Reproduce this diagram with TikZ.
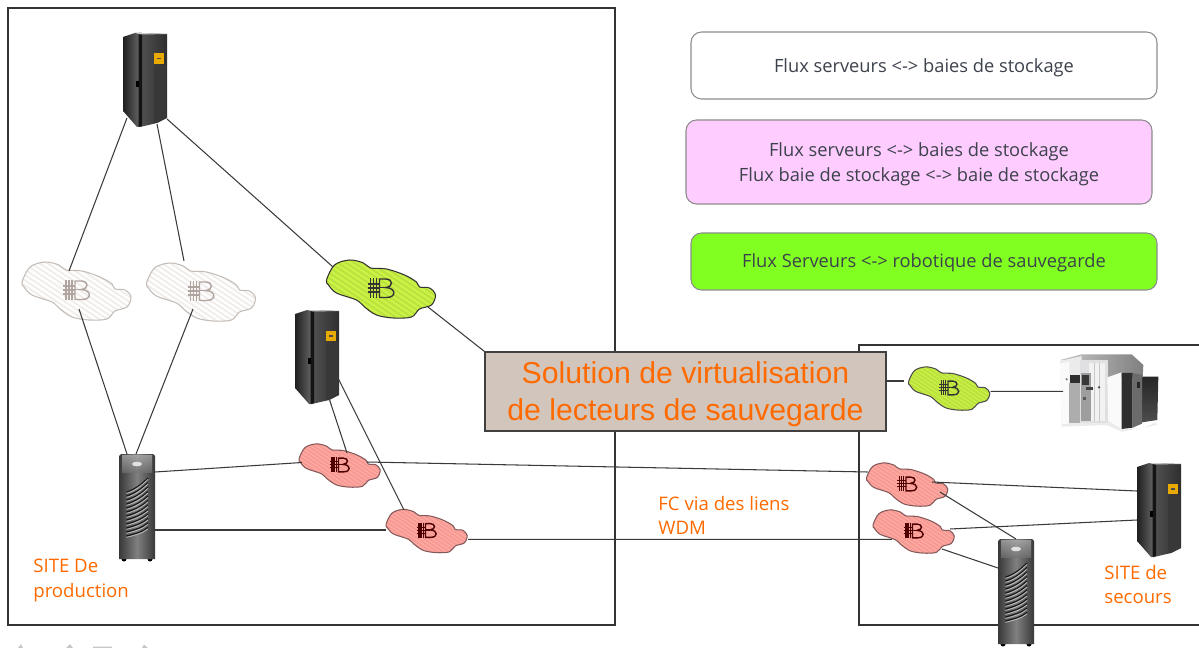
\documentclass[tikz,border=0pt]{standalone}
\usepackage{fontspec}
\setmainfont{Open Sans}
\newfontfamily\arialfont{Liberation Sans}
\definecolor{orangetxt}{HTML}{FF6A00}
\definecolor{legendtxt}{HTML}{3C424C}
\definecolor{linkgray}{HTML}{3A3A3A}
\definecolor{legpink}{RGB}{255,204,255}
\definecolor{leggreen}{RGB}{128,255,32}
\definecolor{greenfill}{RGB}{205,242,70}
\definecolor{greenstripe}{RGB}{186,226,62}
\definecolor{redfill}{RGB}{255,172,165}
\definecolor{redstripe}{RGB}{248,154,148}
\definecolor{whitestripe}{RGB}{241,237,234}
\definecolor{whiteedge}{RGB}{196,188,182}
\definecolor{whiteglyph}{RGB}{176,164,158}
\definecolor{boxfill}{RGB}{210,198,188}
\definecolor{badge}{RGB}{232,170,0}
\tikzset{
  hit/.style={inner sep=0pt,minimum size=0pt,outer sep=0pt},
  link/.style={draw=linkgray,line width=0.6pt},
  framebox/.style={draw=black!80,line width=0.65pt},
  legendbox/.style={draw=black!45,line width=0.6pt,rounded corners=6pt,minimum height=#1},
  legendtext/.style={text=legendtxt,font=\fontsize{10.4pt}{14.2pt}\selectfont,align=center},
  sitetext/.style={text=orangetxt,font=\fontsize{10.6pt}{13.8pt}\selectfont,align=left,anchor=north west,inner sep=0pt},
  pics/netcloud/.style n args={4}{code={
    \def\cloudoutline{plot[smooth cycle,tension=0.55] coordinates{
      (-55,-9)(-47,-24)(-32,-29)(-18,-26)(-11,-21)(5,-20)(23,-14)(35,-7)(38,-2)(48,-1)(54,6)(50,16)(38,20)(30,28)(12,29)(-5,26)(-17,18)(-25,11)(-45,4)(-53,-4)}}
    \fill[#1] \cloudoutline;
    \begin{scope}
      \clip \cloudoutline;
      \foreach \s in {-100,-92,...,100}{
        \draw[#2,line width=1.1pt] (\s-45,-30)--(\s+45,30);
      }
    \end{scope}
    \draw[#3,line width=0.6pt] \cloudoutline;
    \begin{scope}[draw=#4,line width=0.8pt]
      \foreach \x in {-11,-8,-5}{\draw (\x,-11)--(\x,9);}
      \foreach \y in {-5,-1,3}{\draw (-14,\y)--(-2,\y);}
      \draw (-2,-10)--(4,-10) .. controls (12,-10) and (12,-2) .. (4,-1.5) .. controls (15,-1) and (15,8.5) .. (5,8.5)--(-2,8.5)--cycle;
      \draw (-2,-1.5)--(4,-1.5);
    \end{scope}
  }},
  pics/blacktower/.style={code={
    \shade[left color=black!88,right color=black!58] (0,4)--(12,0)--(18,0)--(18,94)--(14,94)--(0,78)--cycle;
    \shade[left color=black!68,right color=black!82] (17,0)--(44,1)--(44,85)--(34,90)--(17,94)--cycle;
    \fill[black!92] (15.5,0)--(19,0)--(19,93)--(15.5,94)--cycle;
    \fill[black!78] (31,32)--(43.5,32)--(43.5,85)--(34,90)--(31,90)--cycle;
    \fill[black!20] (12,0)--(18,0)--(44,1)--(18,1.5)--cycle;
    \fill[black] (13,48)rectangle(16,54);
    \fill[badge] (30.5,20.5)rectangle(41,31);
    \fill[black!70] (33.5,25)rectangle(38,26.5);
  }},
  pics/greytower/.style={code={
    \fill[black] (5,105)circle(2.5) (31,105)circle(2.5);
    \shade[left color=black!78,right color=black!78,middle color=black!50] (0,2)--(2,0)--(34,0)--(36,2)--(36,105)--(0,105)--cycle;
    \shade[top color=black!30,bottom color=black!55,opacity=0.7] (3,1)rectangle(33,18);
    \fill[black!12] (18,10)ellipse(5 and 2.3);
    \foreach \k in {0,...,11}{
      \draw[black!90,line width=0.7pt] (7.5,38+4*\k) .. controls (15,36+4*\k) and (23,30+4.4*\k) .. (29,24+4.5*\k);
      \draw[black!25,line width=0.45pt] (7.5,39.4+4*\k) .. controls (15,37.4+4*\k) and (23,31.4+4.4*\k) .. (29,25.4+4.5*\k);
    }
  }},
  pics/robotunit/.style={code={
    \begin{scope}[scale=0.3333]
      \shade[top color=black!85,bottom color=black!70] (274,95)--(325,95)--(322,225)--(276,232)--cycle;
      \fill[black!8] (35,232)--(175,225)--(215,252)--(275,250)--(320,232)--(320,240)--(215,260)--(170,240)--(35,245)--cycle;
      \shade[left color=black!22,right color=black!50] (30,45)--(95,28)--(245,28)--(280,60)--(278,98)--(170,98)--(95,55)--cycle;
      \fill[black!8] (30,48)--(95,33)--(95,235)--(35,238)--cycle;
      \fill[black!2] (30,55)--(58,50)--(58,235)--(35,238)--cycle;
      \fill[black!32] (58,115)rectangle(92,235);
      \fill[black!82] (60,90)rectangle(90,115);
      \fill[blue!10!black!12] (90,45)--(175,45)--(175,235)--(90,235)--cycle;
      \fill[blue!5!black!5] (118,55)--(165,55)--(165,228)--(118,228)--cycle;
      \draw[black!22,line width=0.4pt] (134,55)--(134,228) (148,55)--(148,228);
      \fill[black!38] (92,85)rectangle(122,228);
      \fill[black!78] (97,90)rectangle(118,120);
      \fill[black!75] (108,125)rectangle(130,134);
      \fill[black!65] (100,155)rectangle(108,165);
      \fill[black!70] (147,127)circle(4);
      \fill[black!55] (50,103)circle(3.5);
      \fill[black!2] (172,97)--(215,82)--(215,252)--(175,227)--cycle;
      \fill[black!82] (215,84)--(248,84)--(248,248)--(215,252)--cycle;
      \fill[black!58] (248,84)--(276,90)--(276,236)--(248,248)--cycle;
      \fill[black!85] (260,110)rectangle(270,130);
    \end{scope}
  }}
}
\begin{document}
\begin{tikzpicture}[x=0.02cm,y=-0.02cm]
\useasboundingbox (0,0) rectangle (1199,648);
% frames
\draw[framebox] (8,8) rectangle (615,625);
\draw[framebox] (1199,345)--(859,345)--(859,625)--(1199,625);
% remains of a cut-off line under the left frame
\fill[black!22] (18,648)--(21,644)--(23,648)--cycle (66,648)--(70,644)--(73,648)--cycle (93,646.5) rectangle (112,648) (142,648)--(144,644.5)--(148,648)--cycle;
% legend
\node[legendbox=67*0.02cm,minimum width=466*0.02cm,fill=white] (lg1) at (924,65.5) {};
\node[legendbox=84*0.02cm,minimum width=466*0.02cm,fill=legpink] (lg2) at (919,162) {};
\node[legendbox=57*0.02cm,minimum width=466*0.02cm,fill=leggreen] (lg3) at (924,261.5) {};
\node[legendtext] at (924,67.5) {Flux serveurs <-> baies de stockage};
\node[legendtext] at (919,164.5) {Flux serveurs <-> baies de stockage\\Flux baie de stockage <-> baie de stockage};
\node[legendtext] at (924,263) {Flux Serveurs <-> robotique de sauvegarde};
% device positions
\node[hit] (tower1) at (145,80) {};
\node[hit] (tower2) at (317,357) {};
\node[hit] (tower3) at (1159,510) {};
\node[hit] (hp1) at (137,508) {};
\node[hit] (hp2) at (1016,593) {};
\node[hit] (c1) at (77,291) {};
\node[hit] (c2) at (201.5,292) {};
\node[hit] (cg) at (381.5,289) {};
\node[hit] (rA) at (340,465.5) {};
\node[hit] (rB) at (427,531) {};
\node[hit] (gr) at (949.5,388.5) {};
\node[hit] (rC) at (907.5,484.5) {};
\node[hit] (rD) at (914,531.5) {};
\node[hit] (robot) at (1111,391) {};
% devices
\pic at (123,33) {blacktower};
\pic at (295,310) {blacktower};
\pic at (1137,463) {blacktower};
\pic at (119,454) {greytower};
\pic at (998,539) {greytower};
\pic at (1050,345) {robotunit};
\pic at (c1) {netcloud={fill=white}{whitestripe}{whiteedge}{whiteglyph}};
\pic at (c2) {netcloud={fill=white}{whitestripe}{whiteedge}{whiteglyph}};
\pic at (cg) {netcloud={fill=greenfill}{greenstripe}{black!80}{black!80}};
\pic[scale=0.745] at (gr) {netcloud={fill=greenfill}{greenstripe}{black!70}{black!80}};
\pic[scale=0.745] at (rA) {netcloud={fill=redfill}{redstripe}{red!25!black!65}{red!30!black}};
\pic[scale=0.745] at (rB) {netcloud={fill=redfill}{redstripe}{red!25!black!65}{red!30!black}};
\pic[scale=0.745] at (rC) {netcloud={fill=redfill}{redstripe}{red!25!black!65}{red!30!black}};
\pic[scale=0.745] at (rD) {netcloud={fill=redfill}{redstripe}{red!25!black!65}{red!30!black}};
% central box
\node[draw=black!75,line width=0.7pt,fill=boxfill,minimum width=401*0.02cm,minimum height=79*0.02cm,inner sep=0pt] (vbox) at (685.5,391.5) {};
\node[text=orangetxt,font=\arialfont\fontsize{17.2pt}{21pt}\selectfont,align=center,inner sep=0pt] (vtext) at (685.5,394.5) {Solution de virtualisation\\de lecteurs de sauvegarde};
% connectors
\draw[link] ([shift={(-18,38)}]tower1.center)--([shift={(-8,-20)}]c1.center);
\draw[link] ([shift={(12,44)}]tower1.center)--([shift={(-17.5,-31)}]c2.center);
\draw[link] ([shift={(22,39)}]tower1.center)--([shift={(-48.5,-22)}]cg.center);
\draw[link] ([shift={(2,18)}]c1.center)--([shift={(-10,-54)}]hp1.center);
\draw[link] ([shift={(-8.5,17)}]c2.center)--([shift={(-1,-54)}]hp1.center);
\draw[link] ([shift={(46.5,18)}]cg.center)--(vbox.north west);
\draw[link] ([shift={(11,38)}]tower2.center)--([shift={(7,-12.5)}]rA.center);
\draw[link] ([shift={(20,19)}]tower2.center)--([shift={(-23,-21)}]rB.center);
\draw[link] ([shift={(18,-36)}]hp1.center)--([shift={(-38,-3)}]rA.center);
\draw[link] ([shift={(18,22)}]hp1.center)--([shift={(-41,-1)}]rB.center);
\draw[link] ([shift={(27,-3.5)}]rA.center)--([shift={(-40,-12.5)}]rC.center);
\draw[link] ([shift={(41,8.4)}]rB.center)--([shift={(-22,7.9)}]rD.center);
\draw[link] ([shift={(24.5,-2.5)}]rC.center)--([shift={(-22,-19)}]tower3.center);
\draw[link] ([shift={(32.5,7.5)}]rC.center)--([shift={(0,-54)}]hp2.center);
\draw[link] ([shift={(36,-2.5)}]rD.center)--([shift={(-22,10)}]tower3.center);
\draw[link] ([shift={(28,17.5)}]rD.center)--([shift={(-18,-25)}]hp2.center);
\draw[link] ([shift={(200.5,-10.5)}]vbox.center)--([shift={(-45.5,-7.5)}]gr.center);
\draw[link] ([shift={(41,2.9)}]gr.center)--([shift={(-48,0.4)}]robot.center);
% labels
\node[sitetext] (l1) at (33,559) {SITE De\\production};
\node[sitetext] (l2) at (658,496) {FC via des liens\\WDM};
\node[sitetext] (l3) at (1104,565) {SITE de\\secours};
\end{tikzpicture}
\end{document}
